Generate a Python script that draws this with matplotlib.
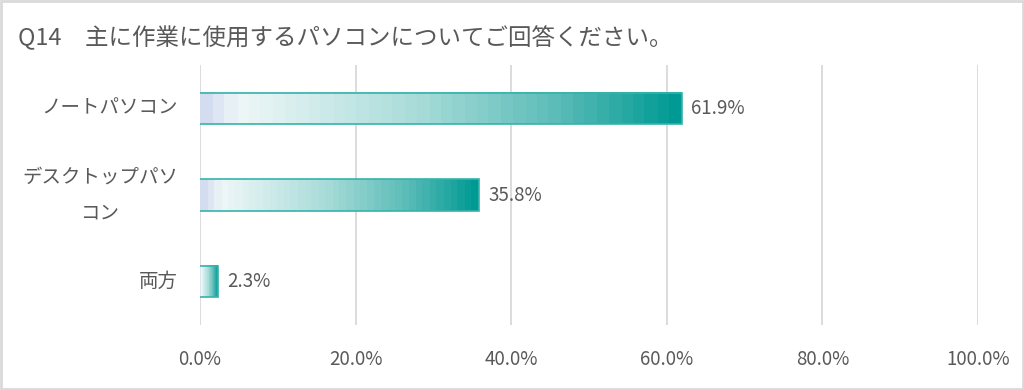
import matplotlib
matplotlib.use("Agg")
import matplotlib.pyplot as plt
import numpy as np
from matplotlib.colors import LinearSegmentedColormap
from matplotlib.patches import Rectangle

plt.rcParams['font.family'] = ['Noto Sans CJK JP', 'DejaVu Sans']

title = "Q14\u3000主に作業に使用するパソコンについてご回答ください。"
categories = ["ノートパソコン", "デスクトップパソ\nコン", "両方"]
values = [61.9, 35.8, 2.3]
xticks = [0, 20, 40, 60, 80, 100]
xticklabels = ["0.0%", "20.0%", "40.0%", "60.0%", "80.0%", "100.0%"]

TXT = "#595959"
GRID = "#d9d9d9"
EDGE = "#35b3ab"

cmap = LinearSegmentedColormap.from_list(
    "grad",
    [(0.0, "#d4ddf0"), (0.07, "#eef7f7"), (0.45, "#a8dcd9"),
     (0.75, "#5bbcb7"), (1.0, "#009a94")], N=40)

fig = plt.figure(figsize=(10.24, 3.9), dpi=100)
fig.patch.set_facecolor("white")
fig.patches.append(Rectangle((0.001, 0.002), 0.998, 0.996, transform=fig.transFigure,
                             fill=False, edgecolor="#d9d9d9", linewidth=2.0))

ax = fig.add_axes([200/1024, 1-325/390, 778/1024, 260/390])
ax.set_xlim(0, 100)
ax.set_ylim(2.5, -0.5)

bar_h = 0.36
grad = np.linspace(0, 1, 256).reshape(1, -1)
for i, v in enumerate(values):
    y0, y1 = i - bar_h/2, i + bar_h/2
    ax.imshow(grad, cmap=cmap, aspect='auto',
              extent=[0, v, y1, y0], zorder=3, interpolation='nearest')
    ax.plot([0, v, v, 0], [y0, y0, y1, y1], color=EDGE, linewidth=1.2,
            zorder=4, solid_joinstyle='miter')
    ax.annotate(f"{v:.1f}%", xy=(v, i), xytext=(7, 0), textcoords="offset points",
                ha="left", va="center", fontsize=13.5, color=TXT)
    ax.text(-22/7.78, i, categories[i], ha="right", va="center",
            multialignment="center", linespacing=1.95, fontsize=14, color=TXT)

ax.set_ylim(2.5, -0.5)
ax.set_xticks(xticks)
ax.set_xticklabels(xticklabels, fontsize=13.5, color=TXT)
ax.set_yticks([])
ax.tick_params(axis='x', length=0, pad=17)
ax.grid(axis='x', color=GRID, linewidth=1.3, zorder=0)
ax.set_axisbelow(True)
for s in ax.spines.values():
    s.set_visible(False)

fig.text(18/1024, 1-38/390, title, ha="left", va="center", fontsize=16.9, color=TXT)

fig.savefig("out.png", dpi=100)
